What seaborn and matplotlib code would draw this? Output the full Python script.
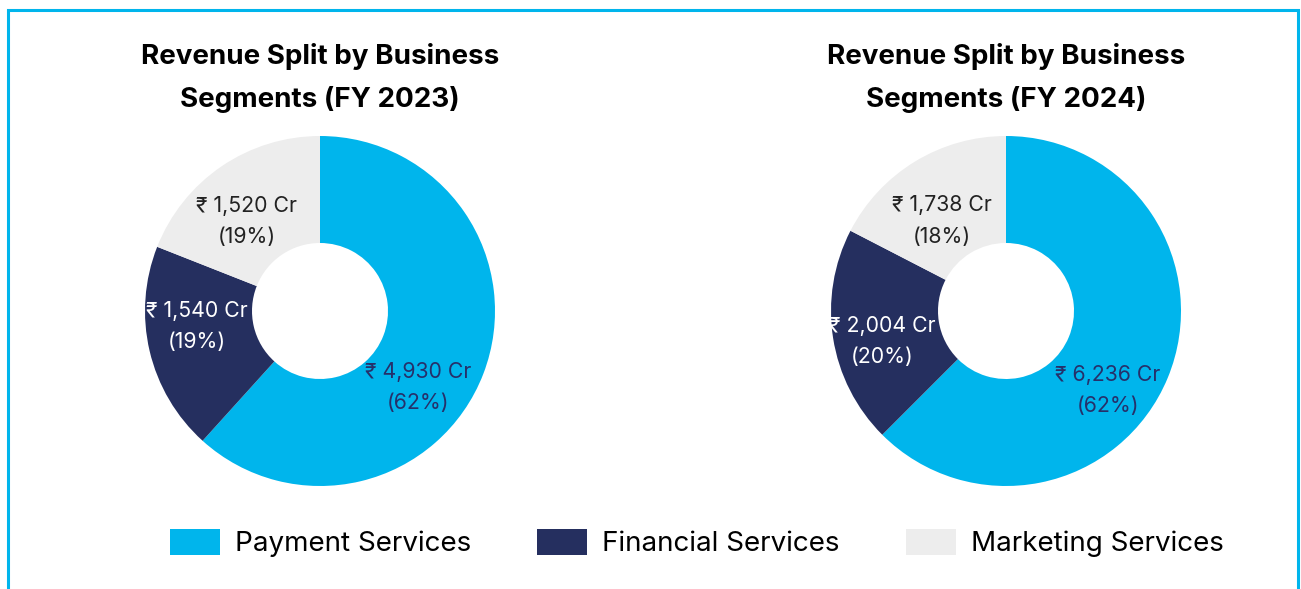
import matplotlib
matplotlib.use("Agg")
import matplotlib.pyplot as plt
import seaborn as sns
import numpy as np
from matplotlib.patches import Patch, Rectangle

# Data
segments = ["Payment Services", "Financial Services", "Marketing Services"]
years = ["FY 2023", "FY 2024"]
revenue_fy23 = [4930, 1540, 1520]
revenue_fy24 = [6236, 2004, 1738]
share_fy23 = [62, 19, 19]
share_fy24 = [62, 20, 18]

# Style
colors = ["#00B5EC", "#252F5F", "#EDEDED"]
label_colors = ["#26306A", "#FFFFFF", "#222222"]

sns.set_style("white")
plt.rcParams["font.family"] = ["Inter", "DejaVu Sans"]

W, H = 1301, 589
fig = plt.figure(figsize=(W / 100, H / 100), dpi=100)
fig.patch.set_facecolor("white")

# donut layout (pixels) and label tweaks
centers_x = [320, 1006]
center_y = 311
R = 175
ring_width = 1 - 68 / 175
label_shift = [[-17, -6, 5], [-15.5, 5, 4]]
label_radius = [[0.71, 0.71, 0.66], [0.74, 0.73, 0.63]]

for i, (vals, shares, year) in enumerate(zip([revenue_fy23, revenue_fy24],
                                             [share_fy23, share_fy24], years)):
    cx = centers_x[i]
    ax = fig.add_axes([(cx - R) / W, (H - center_y - R) / H, 2 * R / W, 2 * R / H])
    wedges, _ = ax.pie(vals, colors=colors, startangle=90, counterclock=False,
                       wedgeprops=dict(width=ring_width, edgecolor="none"))
    ax.set_xlim(-1, 1)
    ax.set_ylim(-1, 1)
    ax.set_aspect("equal")
    ax.axis("off")

    for j, w in enumerate(wedges):
        ang = np.deg2rad((w.theta1 + w.theta2) / 2 + label_shift[i][j])
        r = label_radius[i][j]
        ax.text(r * np.cos(ang), r * np.sin(ang),
                f"\u20b9 {vals[j]:,} Cr\n({shares[j]}%)",
                ha="center", va="center", fontsize=15.3, color=label_colors[j],
                linespacing=1.7)

    ax.text(0.5, 1.166, f"Revenue Split by Business\nSegments ({year})",
            transform=ax.transAxes, ha="center", va="center",
            fontsize=20, fontweight="bold", color="#000000", linespacing=1.75)

# legend: wide colour chips, Inter text
fs = 20
px = fs * 100 / 72
handles = [Patch(facecolor=c, edgecolor="none", label=s) for c, s in zip(colors, segments)]
leg = fig.legend(handles=handles, loc="center", bbox_to_anchor=(0.5357, 1 - 543 / H),
                 ncol=3, frameon=False, prop={"family": "Inter", "size": fs},
                 handlelength=50 / px, handleheight=29 / px,
                 handletextpad=15 / px, columnspacing=66 / px)
for t in leg.get_texts():
    t.set_color("#000000")

# cyan frame, open at the bottom edge
fig.add_artist(Rectangle((7.5 / W, -0.05), (1298 - 7.5) / W, (H - 9.5) / H + 0.05,
                         transform=fig.transFigure, fill=False,
                         edgecolor="#00B5EC", linewidth=2.2, clip_on=False))

fig.savefig("out.png", dpi=100)
